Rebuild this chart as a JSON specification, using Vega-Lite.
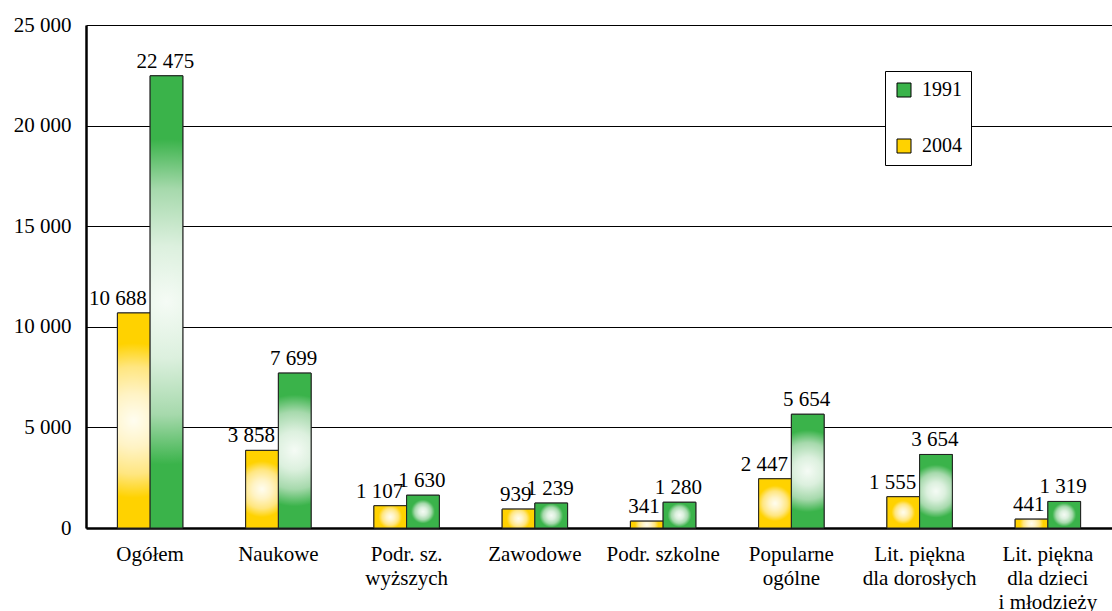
{
  "$schema": "https://vega.github.io/schema/vega-lite/v6.json",
  "width": 1026,
  "height": 503,
  "autosize": {"type": "none"},
  "padding": {"left": 86, "top": 25, "right": 0, "bottom": 83},
  "background": "white",
  "config": {
    "locale": {"number": {"decimal": ",", "thousands": " ", "grouping": [3], "currency": ["", " zł"]}},
    "view": {"stroke": null},
    "font": "Liberation Serif",
    "text": {"font": "Liberation Serif", "fontSize": 21, "color": "black"}
  },
  "data": {
    "values": [
      {"kategoria": "Ogółem", "rok": "2004", "liczba": 10688},
      {"kategoria": "Ogółem", "rok": "1991", "liczba": 22475},
      {"kategoria": "Naukowe", "rok": "2004", "liczba": 3858},
      {"kategoria": "Naukowe", "rok": "1991", "liczba": 7699},
      {"kategoria": "Podr. sz.|wyższych", "rok": "2004", "liczba": 1107},
      {"kategoria": "Podr. sz.|wyższych", "rok": "1991", "liczba": 1630},
      {"kategoria": "Zawodowe", "rok": "2004", "liczba": 939},
      {"kategoria": "Zawodowe", "rok": "1991", "liczba": 1239},
      {"kategoria": "Podr. szkolne", "rok": "2004", "liczba": 341},
      {"kategoria": "Podr. szkolne", "rok": "1991", "liczba": 1280},
      {"kategoria": "Popularne|ogólne", "rok": "2004", "liczba": 2447},
      {"kategoria": "Popularne|ogólne", "rok": "1991", "liczba": 5654},
      {"kategoria": "Lit. piękna|dla dorosłych", "rok": "2004", "liczba": 1555},
      {"kategoria": "Lit. piękna|dla dorosłych", "rok": "1991", "liczba": 3654},
      {"kategoria": "Lit. piękna|dla dzieci|i młodzieży", "rok": "2004", "liczba": 441},
      {"kategoria": "Lit. piękna|dla dzieci|i młodzieży", "rok": "1991", "liczba": 1319}
    ]
  },
  "encoding": {
    "x": {
      "field": "kategoria", "type": "nominal", "sort": null,
      "scale": {"paddingInner": 0.49, "paddingOuter": 0.245},
      "axis": {
        "title": null, "ticks": false, "grid": false, "labelAngle": 0,
        "labelExpr": "split(datum.label, '|')",
        "labelFont": "Liberation Serif", "labelFontSize": 21, "labelColor": "black",
        "labelLineHeight": 24, "labelPadding": 15,
        "domainColor": "black", "domainWidth": 2.5
      }
    },
    "xOffset": {"field": "rok", "type": "nominal", "scale": {"domain": ["2004", "1991"], "paddingInner": 0, "paddingOuter": 0}},
    "y": {
      "field": "liczba", "type": "quantitative",
      "scale": {"domain": [0, 25000]},
      "axis": {
        "title": null, "ticks": false, "values": [0, 5000, 10000, 15000, 20000, 25000],
        "format": ",d", "labelFont": "Liberation Serif", "labelFontSize": 21, "labelColor": "black",
        "labelPadding": 15, "grid": true, "gridColor": "black", "gridWidth": 1, "gridOpacity": 1,
        "domainColor": "black", "domainWidth": 2.5
      }
    }
  },
  "layer": [
    {
      "mark": {"type": "bar", "stroke": "#222222", "strokeWidth": 1},
      "encoding": {
        "color": {
          "field": "rok", "type": "nominal",
          "scale": {"domain": ["1991", "2004"], "range": ["#3AB34A", "#FFD200"]},
          "legend": {
            "orient": "none", "legendX": 799, "legendY": 46, "title": null, "direction": "vertical",
            "padding": 9, "rowPadding": 36, "strokeColor": "black", "fillColor": "white",
            "symbolType": "square", "symbolSize": 196, "symbolStrokeColor": "black", "symbolStrokeWidth": 1,
            "symbolOpacity": 1, "labelFont": "Liberation Serif", "labelFontSize": 20, "labelColor": "black",
            "labelOffset": 8
          }
        }
      }
    },
    {
      "transform": [{"filter": "datum.rok == '2004'"}],
      "mark": {
        "type": "bar", "stroke": "#222222", "strokeWidth": 1,
        "fill": {"gradient": "radial", "x1": 0.5, "y1": 0.5, "r1": 0, "x2": 0.5, "y2": 0.5, "r2": 0.5,
          "stops": [{"offset": 0, "color": "#fffdf0"}, {"offset": 0.25, "color": "#fff3c4"}, {"offset": 0.5, "color": "#ffe680"}, {"offset": 0.72, "color": "#FFD200"}, {"offset": 1, "color": "#FFD200"}]}
      }
    },
    {
      "transform": [{"filter": "datum.rok == '1991'"}],
      "mark": {
        "type": "bar", "stroke": "#222222", "strokeWidth": 1,
        "fill": {"gradient": "radial", "x1": 0.5, "y1": 0.5, "r1": 0, "x2": 0.5, "y2": 0.5, "r2": 0.5,
          "stops": [{"offset": 0, "color": "#f5fbf5"}, {"offset": 0.25, "color": "#dcf0de"}, {"offset": 0.5, "color": "#a6d9ac"}, {"offset": 0.72, "color": "#3AB34A"}, {"offset": 1, "color": "#3AB34A"}]}
      }
    },
    {
      "transform": [{"filter": "datum.rok == '2004'"}],
      "mark": {"type": "text", "align": "right", "baseline": "alphabetic", "dx": 13, "dy": -8, "fontSize": 21, "font": "Liberation Serif", "color": "black"},
      "encoding": {"text": {"field": "liczba", "type": "quantitative", "format": ",d"}}
    },
    {
      "transform": [{"filter": "datum.rok == '1991'"}],
      "mark": {"type": "text", "align": "center", "baseline": "alphabetic", "dx": -1, "dy": -8, "fontSize": 21, "font": "Liberation Serif", "color": "black"},
      "encoding": {"text": {"field": "liczba", "type": "quantitative", "format": ",d"}}
    }
  ]
}
